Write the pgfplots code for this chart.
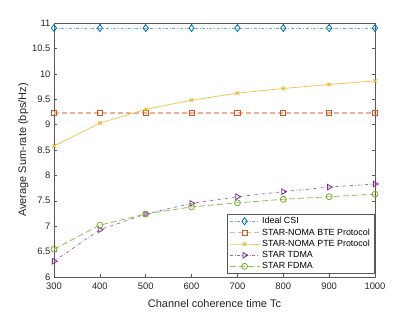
\documentclass[border=0pt]{standalone}
\usepackage{pgfplots}
\pgfplotsset{compat=1.18}
\usepackage{fontspec}
\setmainfont{Liberation Sans}
\definecolor{mblue}{rgb}{0,0.447,0.741}
\definecolor{morange}{rgb}{0.85,0.325,0.098}
\definecolor{myellow}{rgb}{0.929,0.694,0.125}
\definecolor{mpurple}{rgb}{0.494,0.184,0.556}
\definecolor{mgreen}{rgb}{0.466,0.674,0.188}
\begin{document}
\begin{tikzpicture}
\path[use as bounding box] (-54pt,-35pt) rectangle (361pt,277pt);
\begin{axis}[
  at={(0,0)}, anchor=south west,
  scale only axis, width=321pt, height=254pt,
  xmin=300, xmax=1000, ymin=6, ymax=11,
  xtick={300,400,...,1000}, ytick={6,6.5,...,11},
  tick align=inside, tick pos=both,
  major tick length=3pt,
  axis line style={gray!70!black, line width=0.5pt},
  every tick/.style={gray!70!black, line width=0.5pt},
  tick label style={font=\fontsize{9.4}{11}\selectfont, text=black!85},
  label style={font=\fontsize{11}{13}\selectfont, text=black!85},
  /pgf/number format/assume math mode=true,
  yticklabel style={/pgf/number format/fixed},
  xticklabel style={yshift=-2pt, /pgf/number format/.cd, set thousands separator={}},
  xlabel={Channel coherence time Tc},
  ylabel={Average Sum-rate (bps/Hz)},
  xlabel style={yshift=-3pt},
  ylabel style={yshift=-3pt},
  legend style={at={(0.997,0.012)}, anchor=south east, font=\fontsize{8.9}{10.5}\selectfont,
    draw=gray!70!black, line width=0.5pt, inner xsep=2pt, inner ysep=1.5pt, row sep=-0.6pt, cells={anchor=west}},
  legend image code/.code={\draw[mark repeat=2,mark phase=2,#1] plot coordinates {(0pt,0pt)(15pt,0pt)(30pt,0pt)};},
  mark options={solid, line width=0.8pt},
]
\addplot[mblue!60, dash dot, line width=0.8pt, mark=diamond, mark size=3.5pt, mark options={draw=mblue, solid}]
  coordinates {(300,10.9)(400,10.9)(500,10.9)(600,10.9)(700,10.9)(800,10.9)(900,10.9)(1000,10.9)};
\addlegendentry{Ideal CSI}
\addplot[morange!45, dash pattern=on 5pt off 3pt, line width=1.2pt, mark=square, mark size=2.6pt, mark options={draw=morange, solid, line width=0.8pt}]
  coordinates {(300,9.23)(400,9.23)(500,9.23)(600,9.23)(700,9.23)(800,9.23)(900,9.23)(1000,9.23)};
\addlegendentry{STAR-NOMA BTE Protocol}
\addplot[myellow!75, solid, line width=0.8pt, mark=x, mark size=2.5pt, mark options={draw=myellow, solid}]
  coordinates {(300,8.58)(400,9.03)(500,9.30)(600,9.48)(700,9.62)(800,9.71)(900,9.79)(1000,9.86)};
\addlegendentry{STAR-NOMA PTE Protocol}
\addplot[mpurple!70, dash dot, line width=0.8pt, mark=triangle, mark size=3.2pt, mark options={draw=mpurple, solid, rotate=-90}]
  coordinates {(300,6.31)(400,6.93)(500,7.24)(600,7.45)(700,7.58)(800,7.68)(900,7.77)(1000,7.83)};
\addlegendentry{STAR TDMA}
\addplot[mgreen!80, dash pattern=on 6pt off 3pt, line width=0.8pt, mark=o, mark size=3pt, mark options={draw=mgreen, solid}]
  coordinates {(300,6.55)(400,7.02)(500,7.24)(600,7.38)(700,7.46)(800,7.53)(900,7.58)(1000,7.63)};
\addlegendentry{STAR FDMA}
\end{axis}
\end{tikzpicture}
\end{document}
